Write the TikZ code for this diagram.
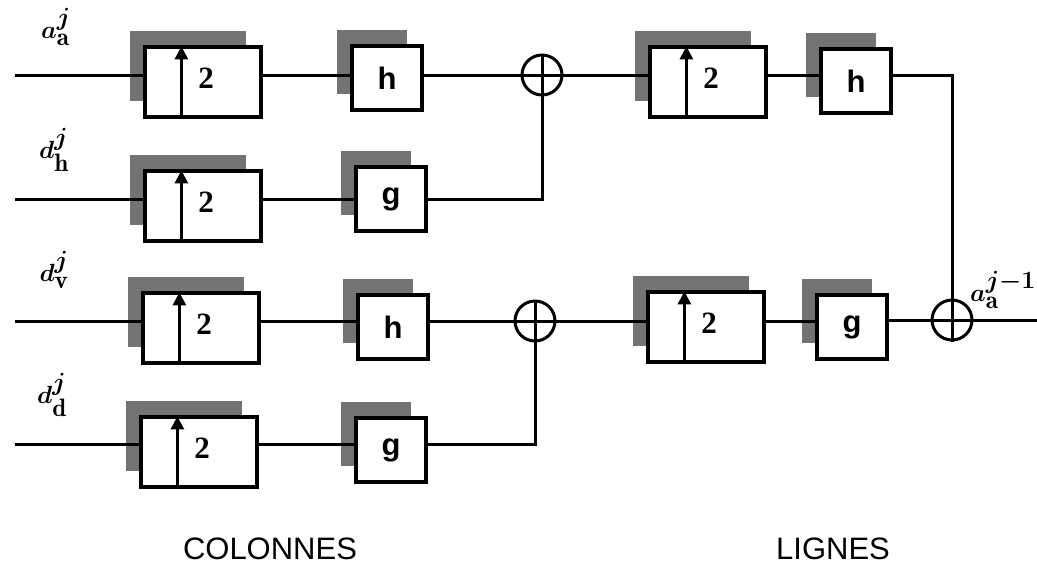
\documentclass[tikz,border=0pt]{standalone}
\usepackage{fontspec}
\usepackage{amsmath,bm}
\setsansfont{Liberation Sans}
\newfontfamily\timesfont{Liberation Serif}
\usetikzlibrary{arrows.meta,shadows,calc}
\begin{document}
\begin{tikzpicture}[x=1pt,y=-1pt,
  wire/.style={line width=3pt},
  blk/.style={draw,line width=3.2pt,fill=white,
    general shadow={fill=black!55,shadow xshift=-15pt,shadow yshift=16pt}},
  upbox/.style={blk,minimum width=116pt,minimum height=70pt,inner sep=0pt},
  filt/.style={blk,minimum width=70pt,minimum height=64pt,inner sep=0pt,
    font=\sffamily\bfseries\fontsize{31}{31}\selectfont},
  two/.style={font=\timesfont\bfseries\fontsize{31}{31}\selectfont,inner sep=0pt},
  adder/.style={draw,circle,line width=3pt,minimum size=40pt,inner sep=0pt,fill=white},
  lab/.style={font=\fontsize{36}{36}\selectfont,inner sep=0pt},
  title/.style={font=\sffamily\fontsize{31}{31}\selectfont,inner sep=0pt},
  uparrow/.style={line width=3pt,-{Triangle[length=13pt,width=13pt]}}]
\useasboundingbox (0,0) rectangle (1037,566);

% inputs
\coordinate (in1) at (15,75);
\coordinate (in2) at (15,199);
\coordinate (in3) at (15,321);
\coordinate (in4) at (15,444);
\coordinate (out) at (1037,320);

% column stage
\node[upbox] (u1) at (203,82) {};
\node[upbox] (u2) at (203,206) {};
\node[upbox] (u3) at (201,328) {};
\node[upbox] (u4) at (199,452) {};
\node[filt] (f1) at (387,78) {h};
\node[filt] (f2) at (391,199) {g};
\node[filt] (f3) at (393,327) {h};
\node[filt] (f4) at (391,450) {g};
\node[adder] (s1) at (542,75) {};
\node[adder] (s2) at (535,321) {};

% row stage
\node[upbox] (u5) at (708,82) {};
\node[upbox] (u6) at (706,327) {};
\node[filt] (f5) at (856,81) {h};
\node[filt] (f6) at (852,327) {g};
\node[adder] (s3) at (952,320) {};

\coordinate (c1) at (952,75);
\coordinate (c2) at (542,199);
\coordinate (c3) at (535,444);

% arrows and "2" in upsampling boxes
\foreach \u in {u1,u2,u3,u4,u5,u6}{
  \draw[uparrow] ($(\u.south west)+(38,0)$) -- ($(\u.north west)+(38,1)$);
  \node[two] at ($(\u.center)+(3,-4)$) {2};
}

% adder crosses
\foreach \s in {s1,s2,s3}{
  \draw[wire] (\s.north) -- (\s.south);
  \draw[wire] (\s.west) -- (\s.east);
}

% wires
\draw[wire] (in1) -- (in1 -| u1.west);
\draw[wire] (in2) -- (in2 -| u2.west);
\draw[wire] (in3) -- (in3 -| u3.west);
\draw[wire] (in4) -- (in4 -| u4.west);
\draw[wire] (in1 -| u1.east) -- (in1 -| f1.west);
\draw[wire] (in2 -| u2.east) -- (in2 -| f2.west);
\draw[wire] (in3 -| u3.east) -- (in3 -| f3.west);
\draw[wire] (in4 -| u4.east) -- (in4 -| f4.west);
\draw[wire] (in1 -| f1.east) -- (s1.west);
\draw[wire] (c2 -| f2.east) -- (c2) -- (s1.south);
\draw[wire] (in3 -| f3.east) -- (s2.west);
\draw[wire] (c3 -| f4.east) -- (c3) -- (s2.south);
\draw[wire] (s1.east) -- (s1.east -| u5.west);
\draw[wire] (s1.east -| u5.east) -- (s1.east -| f5.west);
\draw[wire] (c1 -| f5.east) -- (c1) -- (s3.north);
\draw[wire] (s2.east) -- (s2.east -| u6.west);
\draw[wire] (s2.east -| u6.east) -- (s2.east -| f6.west);
\draw[wire] (s3.west -| f6.east) -- (s3.west);
\draw[wire] (s3.east) -- (out);

% labels
\node[lab] (la) at (56,27) {$\bm{a}^{\bm{j}}_{\mathbf{a}}$};
\node[lab] (lh) at (54,150) {$\bm{d}^{\bm{j}}_{\mathbf{h}}$};
\node[lab] (lv) at (54,270) {$\bm{d}^{\bm{j}}_{\mathbf{v}}$};
\node[lab] (ld) at (52,395) {$\bm{d}^{\bm{j}}_{\mathbf{d}}$};
\node[lab] (lo) at (1003,290) {$\bm{a}^{\bm{j-1}}_{\mathbf{a}}$};

\node[title] (tc) at (270,549) {COLONNES};
\node[title] (tl) at (833,549) {LIGNES};
\end{tikzpicture}
\end{document}
